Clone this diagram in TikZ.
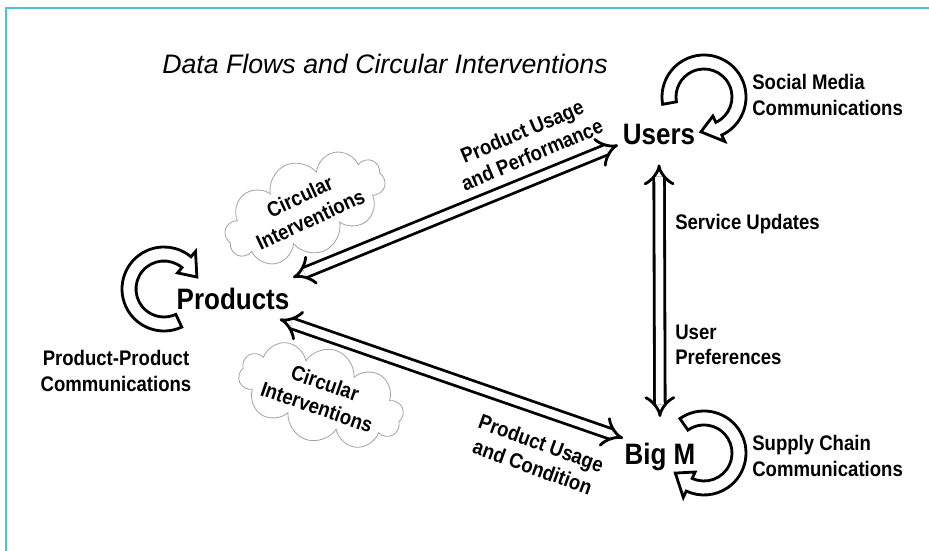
\documentclass[tikz,border=0pt]{standalone}
\usepackage{fontspec}
\setsansfont[FakeStretch=0.88]{Liberation Sans}
\newfontfamily\titlefont{Liberation Sans}
\usetikzlibrary{arrows.meta,shapes.symbols,calc}
\definecolor{frameteal}{RGB}{78,196,200}

\begin{document}
\begin{tikzpicture}[x=0.025cm, y=0.025cm,
    actor/.style={font=\sffamily\bfseries\fontsize{21}{24}\selectfont},
    note/.style={font=\sffamily\bfseries\fontsize{15}{18}\selectfont, align=left, inner sep=0pt},
    blob/.style={cloud, cloud puffs=10, cloud ignores aspect, draw=gray!70, line width=0.6pt, fill=white,
        minimum width=4.1cm, minimum height=2.2cm, inner sep=0pt, align=center,
        font=\sffamily\bfseries\fontsize{15}{18}\selectfont},
    flow/.style={double, double distance=5.5pt, line width=2pt, {Implies[scale=1.25]}-{Implies[scale=1.25]}},
    ringarrow/.style={draw, line width=2pt, fill=white, line join=miter}
]
    \useasboundingbox (0,0) rectangle (929,551);

    % Frame
    \draw[frameteal, line width=1.8pt] (6,0) -- (6,543) -- (929,543);

    % Title
    \node[font=\titlefont\itshape\fontsize{19}{22}\selectfont] (title) at (385,487) {Data Flows and Circular Interventions};

    % Main actors
    \node[actor] (users) at (659,417) {Users};
    \node[actor] (products) at (233,252) {Products};
    \node[actor] (bigm) at (660,94) {Big M};

    % Clouds
    \node[blob, rotate=25] (cloudup) at (305,343) {Circular\\Interventions};
    \node[blob, rotate=-19] (clouddown) at (321,156) {Circular\\Interventions};

    % Self communication loops
    \coordinate (usersring) at (704,454);
    \coordinate (productsring) at (164,262);
    \coordinate (bigmring) at (704,98);
    \foreach \ringname/\ra/\rb in {usersring/190/-65, productsring/-65/-310, bigmring/125/-115} {
        \draw[ringarrow] ($(\ringname)+(\ra:42)$) arc[start angle=\ra, end angle=\rb, radius=42]
            -- ($(\ringname)+(\rb:49)$) -- ($(\ringname)+({\rb-30}:35)$) -- ($(\ringname)+(\rb:21)$)
            -- ($(\ringname)+(\rb:28)$) arc[start angle=\rb, end angle=\ra, radius=28] -- cycle;
    }

    % Data flows
    \draw[flow, shorten <=0.38cm] (products.19) -- (users.195);
    \draw[flow, shorten <=0.34cm] (products.-25) -- (bigm.153);
    \draw[flow, shorten <=0.38cm, shorten >=0.53cm] (users.south) -- (bigm.north);

    % Flow labels
    \node[note, align=center, rotate=23] (perf) at (527,408) {Product Usage\\and Performance};
    \node[note, align=center, rotate=-20] (cond) at (537,96) {Product Usage\\and Condition};
    \node[note, anchor=west] (service) at (675,327) {Service Updates};
    \node[note, anchor=west] (prefs) at (675,206) {User\\Preferences};

    % Loop labels
    \node[note, anchor=west] (social) at (752,456) {Social Media\\Communications};
    \node[note, anchor=west] (supply) at (752,95) {Supply Chain\\Communications};
    \node[note, align=center] (pp) at (116,180) {Product-Product\\Communications};
\end{tikzpicture}
\end{document}
